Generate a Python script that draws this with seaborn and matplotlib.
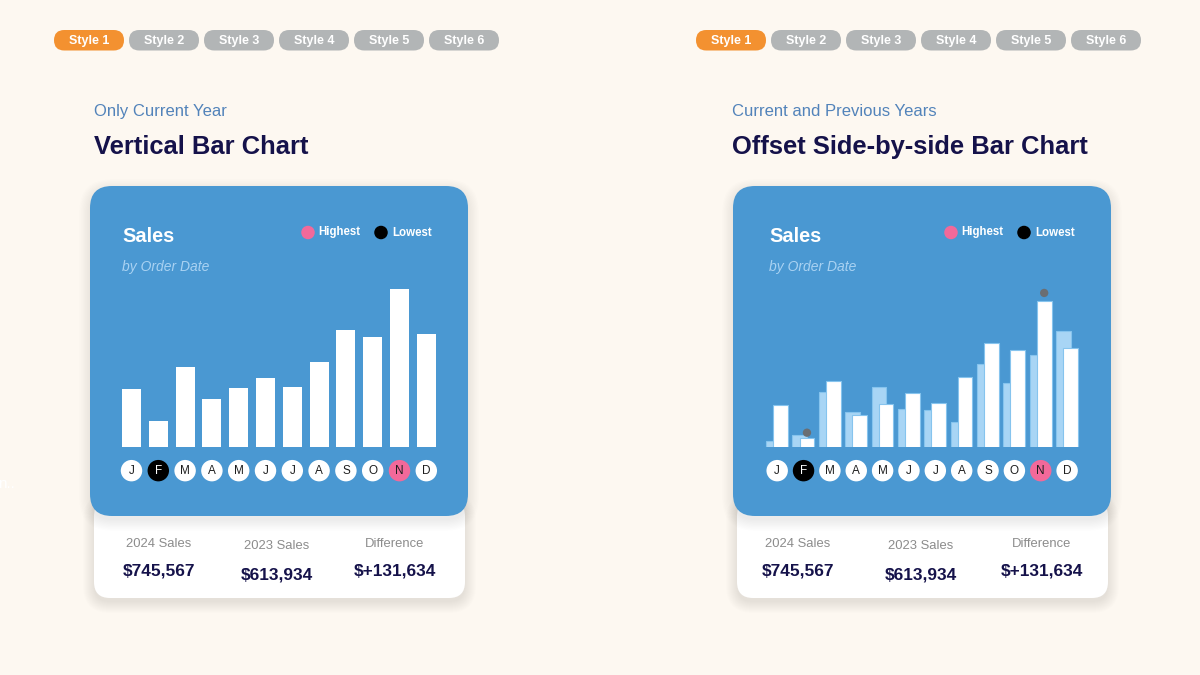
import numpy as np
import pandas as pd
import seaborn as sns
import matplotlib.pyplot as plt
from matplotlib.patches import FancyBboxPatch

# ---- data ----
months = ['Jan', 'Feb', 'Mar', 'Apr', 'May', 'Jun', 'Jul', 'Aug', 'Sep', 'Oct', 'Nov', 'Dec']
month_letters = ['J', 'F', 'M', 'A', 'M', 'J', 'J', 'A', 'S', 'O', 'N', 'D']
sales_2024 = [43900, 19700, 61000, 36300, 44700, 52700, 45400, 64300, 88600, 83700, 119600, 85500]
sales_2023 = [18000, 21800, 53100, 38500, 57200, 40700, 40000, 31300, 73600, 59600, 79900, 97500]

style_tabs = ['Style 1', 'Style 2', 'Style 3', 'Style 4', 'Style 5', 'Style 6']
subtitles = ['Only Current Year', 'Current and Previous Years']
titles = ['Vertical Bar Chart', 'Offset Side-by-side Bar Chart']
stat_labels = ['2024 Sales', '2023 Sales', 'Difference']
stat_values = ['$745,567', '$613,934', '$+131,634']
legend_labels = ['Highest', 'Lowest']

# ---- colours ----
BG = '#FDF8F1'
CARD = '#4A98D2'
LIGHT = '#A8D5F5'
EDGE = '#86C4EE'
PINK = '#F2699A'
NAVY = '#15124A'
SUB = '#5283BA'
PILL_GRAY = '#B2B5B6'
ORANGE = '#F39130'
DOT = '#6A6E73'

W, H = 1200, 675

sns.set_theme(style='white')
plt.rcParams['font.family'] = ['Liberation Sans', 'DejaVu Sans']

fig = plt.figure(figsize=(12, 6.75), dpi=100, facecolor=BG)

# background axes in pixel coordinates (y down)
bg = fig.add_axes([0, 0, 1, 1], zorder=0)
bg.set_xlim(0, W)
bg.set_ylim(H, 0)
bg.axis('off')


def rounded(ax, x, y, w, h, r, **kw):
    ax.add_patch(FancyBboxPatch((x, y), w, h,
                                boxstyle=f'round,pad=0,rounding_size={r}', **kw))


def shadow(ax, x, y, w, h, r, dy=4, layers=14, step=1.0, alpha=0.006):
    # soft drop shadow built from stacked translucent boxes
    for i in range(layers):
        e = i * step
        rounded(ax, x - e, y - e + dy, w + 2 * e, h + 2 * e, r + e,
                fc='#3a3020', ec='none', alpha=alpha)


def px_axes(x0, y0, x1, y1):
    return fig.add_axes([x0 / W, 1 - y1 / H, (x1 - x0) / W, (y1 - y0) / H], zorder=5)


def style_month_labels(ax, values):
    hi, lo = int(np.argmax(values)), int(np.argmin(values))
    ax.set_xticks(range(len(month_letters)))
    ax.set_xticklabels(month_letters)
    ax.tick_params(axis='x', length=0, pad=12.5, labelsize=8.5)
    for i, lab in enumerate(ax.get_xticklabels()):
        fc, tc = 'white', '#1e1e1e'
        if i == lo:
            fc, tc = 'black', 'white'
        elif i == hi:
            fc = PINK
        lab.set_color(tc)
        lab.set_bbox(dict(boxstyle='circle,pad=0.4', fc=fc, ec='none'))
    ax.set_yticks([])
    ax.set_xlabel('')
    ax.set_ylabel('')
    sns.despine(ax=ax, left=True, bottom=True)
    ax.patch.set_alpha(0)


# faint cut-off text at the left edge
bg.text(-2, 488, 'n..', fontsize=11, color='white')

for k, cx in enumerate([90, 733]):
    # style pills
    px0 = 54 if k == 0 else 696
    for i, lab in enumerate(style_tabs):
        x = px0 + i * 75
        rounded(bg, x, 30, 70, 20.5, 10.25, fc=ORANGE if i == 0 else PILL_GRAY, ec='none')
        bg.text(x + 35, 44.3, lab, ha='center', va='baseline', fontsize=9,
                fontweight='bold', color='white')

    tx = cx + 4 if k == 0 else cx - 1
    bg.text(tx, 115.7, subtitles[k], fontsize=12, color=SUB, va='baseline')
    bg.text(tx, 154.3, titles[k], fontsize=18.4, fontweight='bold', color=NAVY, va='baseline')

    # white stats panel, tucked under the bottom of the card
    shadow(bg, cx + 4, 500, 371, 98, 16, dy=4, layers=12)
    rounded(bg, cx + 4, 500, 371, 98, 16, fc='white', ec='none')

    # blue card (its shadow also tints the top of the panel)
    shadow(bg, cx, 186, 378, 330, 22, dy=4, layers=10, step=1.2, alpha=0.007)
    rounded(bg, cx, 186, 378, 330, 22, fc=CARD, ec='none')

    sx = cx + 32 if k == 0 else cx + 36
    bg.text(sx, 242.3, 'Sales', fontsize=14.4, fontweight='bold', color='white', va='baseline')
    bg.text(sx, 271.3, 'by Order Date', fontsize=10, style='italic', color='#A9D2F2', va='baseline')

    # legend
    lx = cx + 218
    bg.scatter([lx, lx + 73], [232.5, 232.5], s=76, c=[PINK, 'black'], zorder=3)
    bg.text(lx + 10.5, 235.5, legend_labels[0], fontsize=8.3, fontweight='bold', color='white', va='baseline')
    bg.text(lx + 84, 235.5, legend_labels[1], fontsize=8.3, fontweight='bold', color='white', va='baseline')

    # stats
    col_x = [69, 187, 305] if k == 0 else [65, 188, 309]
    base_l = [546.7, 548.7, 546.7]
    base_v = [576, 579.3, 576]
    for j in range(3):
        bg.text(cx + col_x[j], base_l[j], stat_labels[j], ha='center', va='baseline',
                fontsize=9.4, color='#8C8C8C')
        bg.text(cx + col_x[j], base_v[j], stat_values[j], ha='center', va='baseline',
                fontsize=12.4, fontweight='bold', color=NAVY)

# ---- left chart: current year only ----
ax1 = px_axes(118.1, 280.9, 439.7, 447.3)
df24 = pd.DataFrame({'month': months, 'sales': sales_2024})
sns.barplot(data=df24, x='month', y='sales', color='white', saturation=1,
            width=0.71, edgecolor='none', ax=ax1)
ax1.set_ylim(0, 126000)
style_month_labels(ax1, sales_2024)

# ---- right chart: offset side-by-side ----
ax2 = px_axes(764.0, 287.3, 1080.3, 447.3)
df23 = pd.DataFrame({'month': months, 'sales': sales_2023})
sns.barplot(data=df23, x='month', y='sales', color=LIGHT, saturation=1,
            width=0.56, edgecolor=EDGE, linewidth=0.8, ax=ax2)
n_prev = len(ax2.patches)
for p in ax2.patches:
    p.set_x(p.get_x() - 0.14)
sns.barplot(data=df24, x='month', y='sales', color='white', saturation=1,
            width=0.56, edgecolor=EDGE, linewidth=0.8, ax=ax2)
for p in ax2.patches[n_prev:]:
    p.set_x(p.get_x() + 0.13)
ax2.set_ylim(13100, 129200)

hi, lo = int(np.argmax(sales_2024)), int(np.argmin(sales_2024))
marks = pd.DataFrame({'x': [hi + 0.13, lo + 0.13],
                      'y': [sales_2024[hi] + 5500, sales_2024[lo] + 4000]})
sns.scatterplot(data=marks, x='x', y='y', color=DOT, s=36, edgecolor='none',
                ax=ax2, clip_on=False, zorder=4)
ax2.set_xlim(-0.5, 11.5)
style_month_labels(ax2, sales_2024)

fig.savefig('out.png', dpi=100, facecolor=BG)
